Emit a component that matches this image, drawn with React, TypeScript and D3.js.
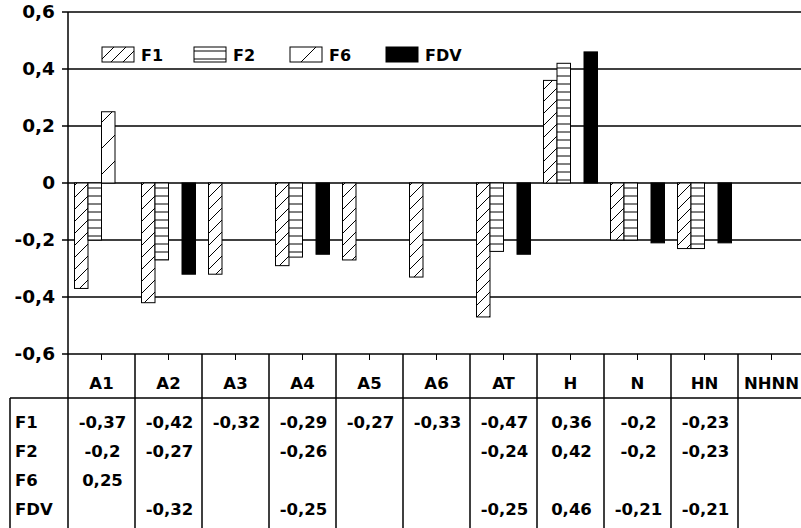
import * as d3 from "d3";
import React from "react";

const categories = ["A1", "A2", "A3", "A4", "A5", "A6", "AT", "H", "N", "HN", "NHNN"];
const seriesNames = ["F1", "F2", "F6", "FDV"];
const f1 = [-0.37, -0.42, -0.32, -0.29, -0.27, -0.33, -0.47, 0.36, -0.2, -0.23, null];
const f2 = [-0.2, -0.27, null, -0.26, null, null, -0.24, 0.42, -0.2, -0.23, null];
const f6 = [0.25, null, null, null, null, null, null, null, null, null, null];
const fdv = [null, -0.32, null, -0.25, null, null, -0.25, 0.46, -0.21, -0.21, null];
const yTicks = [0.6, 0.4, 0.2, 0, -0.2, -0.4, -0.6];

const W = 801, H = 528;
const font = "'DejaVu Sans', sans-serif";
const fmt = (v: number) => String(v).replace(".", ",");

export default function App() {
    const series = [f1, f2, f6, fdv];
    const fills = ["url(#hF1)", "url(#hF2)", "url(#hF6)", "#000"];
    const x = d3.scaleBand<string>().domain(categories).range([68, 805]).paddingInner(0).paddingOuter(0);
    const x1 = d3.scaleBand<string>().domain(seriesNames).range([6.5, x.bandwidth() - 6.5]);
    const y = d3.scaleLinear().domain([-0.6, 0.6]).range([354, 12]);
    const rowY = [422, 451, 480, 509];
    const legendX = [102, 194, 290, 386];

    return (
        <svg width={W} height={H} style={{ position: "absolute", left: 0, top: 0, background: "#fff" }} fontFamily={font}>
            <defs>
                <pattern id="hF1" patternUnits="userSpaceOnUse" width={12} height={12}>
                    <rect width={12} height={12} fill="#fff" />
                    <path d="M0,12 L12,0 M-2,2 L2,-2 M10,14 L14,10" stroke="#000" strokeWidth={1} />
                </pattern>
                <pattern id="hF2" patternUnits="userSpaceOnUse" width={8} height={8}>
                    <rect width={8} height={8} fill="#fff" />
                    <path d="M0,4 L8,4" stroke="#000" strokeWidth={1} />
                </pattern>
                <pattern id="hF6" patternUnits="userSpaceOnUse" width={26} height={26}>
                    <rect width={26} height={26} fill="#fff" />
                    <path d="M0,26 L26,0 M-2,2 L2,-2 M24,28 L28,24" stroke="#000" strokeWidth={1} />
                </pattern>
            </defs>

            {/* grid */}
            {yTicks.map(t => (
                <g key={t}>
                    <line x1={62} x2={W} y1={y(t)} y2={y(t)} stroke="#000" strokeWidth={1.5} />
                    <text x={55} y={y(t)} dy="0.35em" textAnchor="end" fontSize={18.5} fontWeight="bold">{fmt(t)}</text>
                </g>
            ))}

            {/* bars */}
            {categories.map((c, i) => (
                <g key={c} transform={`translate(${x(c)},0)`}>
                    {series.map((s, k) => {
                        const v = s[i];
                        if (v == null) return null;
                        const y0 = y(Math.max(0, v)), y1 = y(Math.min(0, v));
                        return <rect key={k} x={x1(seriesNames[k])} y={y0} width={x1.bandwidth()} height={y1 - y0}
                            fill={fills[k]} stroke="#000" strokeWidth={1} />;
                    })}
                </g>
            ))}

            {/* legend */}
            {seriesNames.map((n, k) => (
                <g key={n} transform={`translate(${legendX[k]},47)`}>
                    <rect width={32} height={15} fill={fills[k]} stroke="#000" strokeWidth={1} />
                    <text x={39} y={8} dy="0.35em" fontSize={16} fontWeight="bold">{n}</text>
                </g>
            ))}

            {/* axes */}
            <line x1={68} x2={68} y1={12} y2={H} stroke="#000" strokeWidth={1.5} />
            {categories.map(c => (
                <line key={c} x1={x(c)! + x.bandwidth() / 2} x2={x(c)! + x.bandwidth() / 2} y1={354} y2={360} stroke="#000" strokeWidth={1} />
            ))}

            {/* table */}
            {categories.map(c => (
                <g key={c}>
                    <line x1={x(c)! + x.bandwidth()} x2={x(c)! + x.bandwidth()} y1={354} y2={H} stroke="#000" strokeWidth={1.5} />
                    <text x={x(c)! + x.bandwidth() / 2} y={383} dy="0.35em" textAnchor="middle" fontSize={16.5} fontWeight="bold">{c}</text>
                </g>
            ))}
            <line x1={10} x2={W} y1={398} y2={398} stroke="#000" strokeWidth={1.5} />
            <line x1={10} x2={10} y1={398} y2={H} stroke="#000" strokeWidth={1.5} />
            {seriesNames.map((n, k) => (
                <g key={n}>
                    <text x={15} y={rowY[k]} dy="0.35em" fontSize={16.5} fontWeight="bold">{n}</text>
                    {categories.map((c, i) => {
                        const v = series[k][i];
                        if (v == null) return null;
                        return <text key={c} x={x(c)! + x.bandwidth() / 2 + 1} y={rowY[k]} dy="0.35em" textAnchor="middle" fontSize={16.5} fontWeight="bold">{fmt(v)}</text>;
                    })}
                </g>
            ))}
        </svg>
    );
}
